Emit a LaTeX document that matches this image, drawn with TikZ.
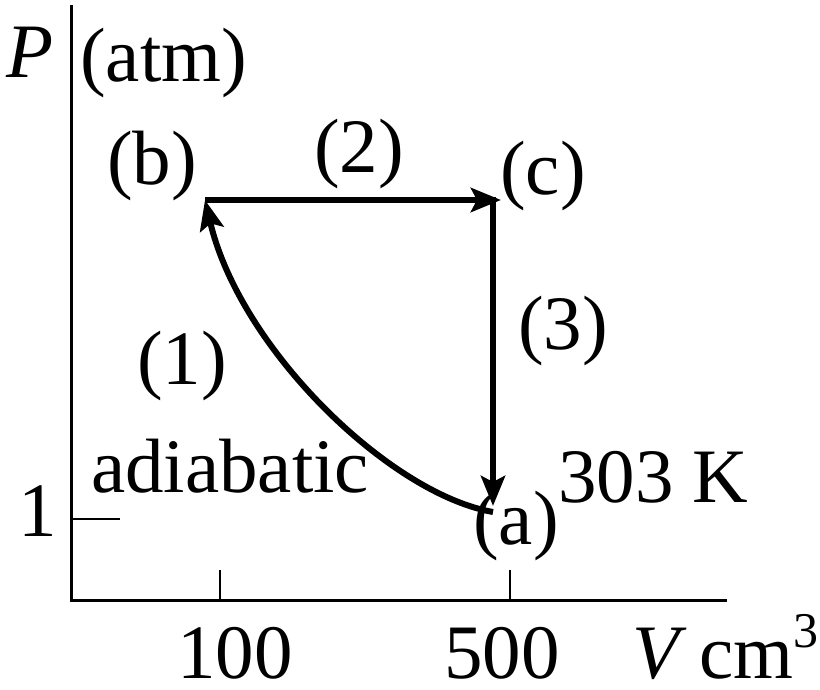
\documentclass[tikz,border=0pt]{standalone}
\usepackage{fontspec}
\setmainfont{Liberation Serif}
\usetikzlibrary{arrows.meta,calc}
\tikzset{
  axis/.style = {line width=3pt},
  tick/.style = {line width=2.2pt},
  proc/.style = {line width=6pt, -{Stealth[length=30pt,width=24pt,inset=6pt]}},
  lbl/.style  = {anchor=base west, inner sep=0pt,
                 font=\fontsize{77}{80}\selectfont},
}
\begin{document}
\begin{tikzpicture}[x=1pt,y=1pt]
  \useasboundingbox (0,0) rectangle (820,689);
  % axes
  \coordinate (O) at (71,89);
  \coordinate (ytop) at (71,684);
  \coordinate (xend) at (727,89);
  \draw[axis] (ytop) -- (O) -- (xend);
  \draw[tick] (71,170) -- (120,170);
  \draw[tick] (220,89) -- (220,119);
  \draw[tick] (510,89) -- (510,119);
  % states
  \coordinate (a) at (493,177);
  \coordinate (atip) at (493,183);
  \coordinate (b) at (205,489);
  \coordinate (c) at (493,489);
  \coordinate (ctip) at (501,489);
  \draw[proc] (a) .. controls (390,195) and (240,340) .. (b);
  \draw[proc] (b) -- (ctip);
  \draw[proc, line cap=butt] ($(c)+(0,3)$) -- (atip);
  % labels
  \node[lbl] (Plbl) at (6,611) {\textit{P}};
  \node[lbl] (atm) at (80,607) {(atm)};
  \node[lbl] (blbl) at (107,504) {(b)};
  \node[lbl] (clbl) at (500,494) {(c)};
  \node[lbl] (albl) at (473,144) {(a)};
  \node[lbl] (p1) at (137,304) {(1)};
  \node[lbl] (p2) at (314,516) {(2)};
  \node[lbl] (p3) at (518,339) {(3)};
  \node[lbl] (adia) at (91,196) {adiabatic};
  \node[lbl] (temp) at (558,186) {303 K};
  \node[lbl] (one) at (18,152) {1};
  \node[lbl] (v100) at (177,11) {100};
  \node[lbl] (v500) at (444,11) {500};
  \node[lbl] (vcm) at (632,11)
    {\textit{V}\,cm\raisebox{0.4em}{\fontsize{50}{50}\selectfont 3}};
\end{tikzpicture}
\end{document}
